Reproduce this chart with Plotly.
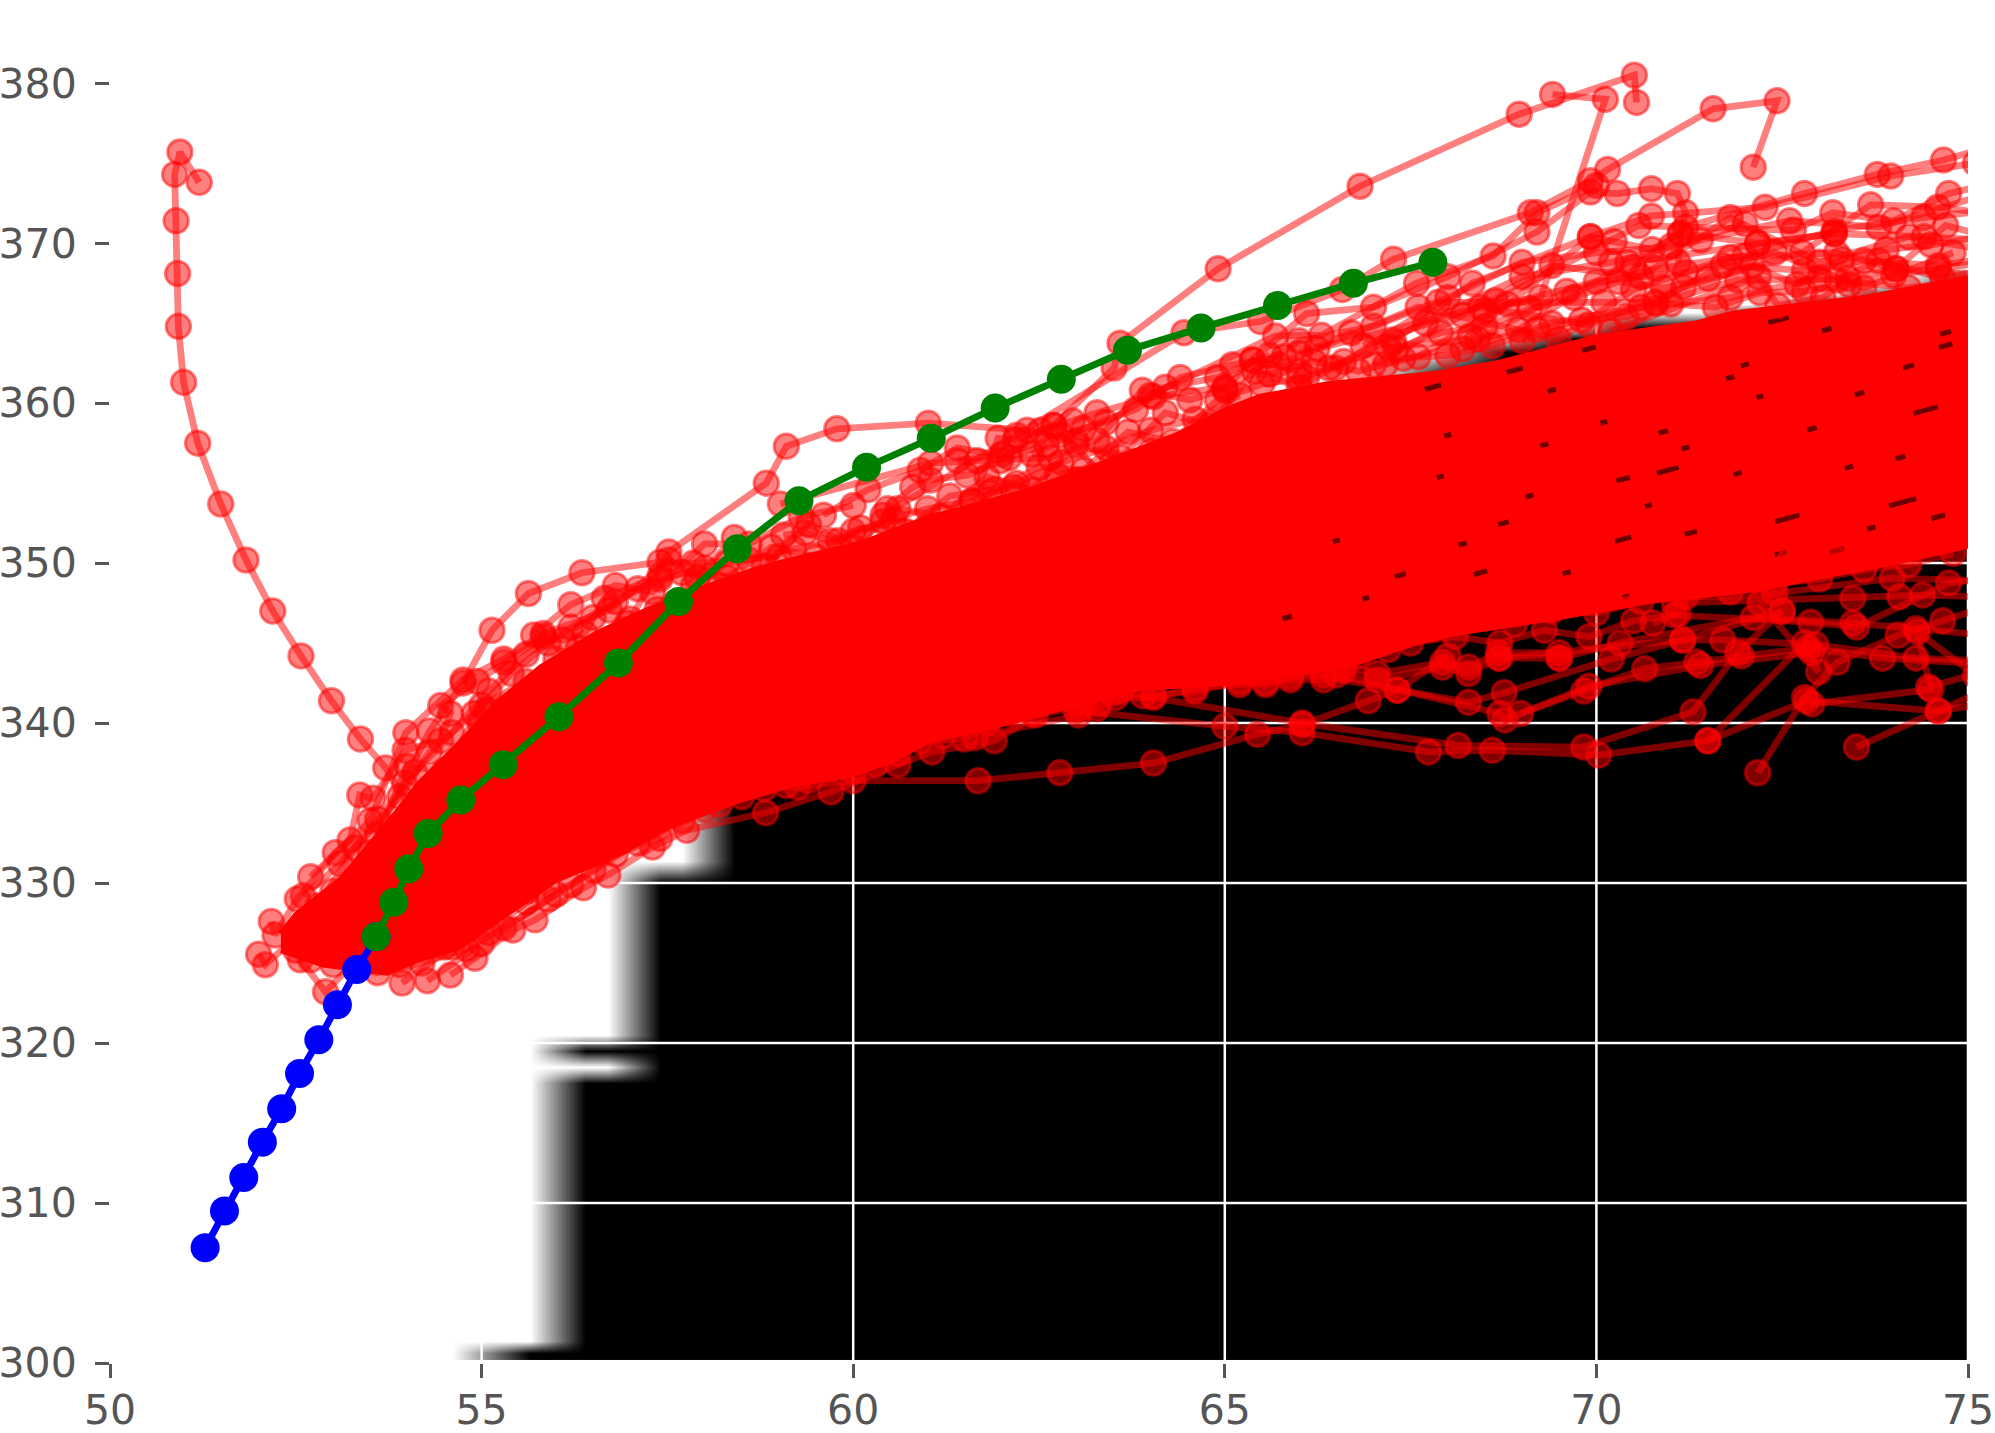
import plotly.graph_objects as go

x_ticks = [50, 55, 60, 65, 70, 75]
y_ticks = [300, 310, 320, 330, 340, 350, 360, 370, 380]

# grey background image: one row per y, the column where black starts
bg_cols = [53.5, 54.6, 55.65, 56.4, 56.7, 57.4, 57.7, 58.4, 59.12, 60.0, 60.88, 61.76, 62.64, 63.52, 64.4, 65.28, 66.16,
           67.04, 67.92, 68.8, 69.68, 70.56, 71.44, 72.32, 73.2, 74.08, 74.96, 75.84]
bg_rows = [300.6, 301.4, 317.5, 318.5, 319.5, 320.5, 330.0, 331.4, 347, 348.5, 350, 351, 352, 353, 354.5, 355.5, 357,
           358.5, 360, 361.7, 363.2, 364, 364.7, 365.7, 366.2, 366.8, 367.4, 368.6]
bg_edge = [55.65, 56.4, 56.4, 57.4, 56.4, 57.4, 57.4, 58.4, 58.4, 59.12, 60.0, 60.88, 61.76, 62.64, 63.52, 64.4,
           65.28, 66.16, 67.04, 67.92, 68.8, 69.68, 70.56, 72.32, 73.2, 74.08, 74.96, 99]

blue_x = [51.28, 51.54, 51.80, 52.05, 52.31, 52.55, 52.81, 53.06, 53.32, 53.58]
blue_y = [307.2, 309.5, 311.6, 313.8, 315.9, 318.1, 320.2, 322.4, 324.6, 326.65]
green_x = [53.58, 53.82, 54.02, 54.28, 54.72, 55.29, 56.04, 56.84, 57.65, 58.44, 59.27, 60.18, 61.05, 61.91, 62.80,
           63.69, 64.68, 65.71, 66.73, 67.80]
green_y = [326.65, 328.8, 330.9, 333.1, 335.2, 337.4, 340.4, 343.75, 347.6, 350.9, 353.9, 356.0, 357.8, 359.7, 361.5,
           363.3, 364.7, 366.1, 367.5, 368.8]

# the part of the red bundle so dense it reads as solid
core_upper = [(52.3, 326.8), (52.5, 328.0), (53.1, 330.2), (53.7, 333.5), (54.17, 336.25), (54.71, 338.75), (55.2, 341.2),
              (55.8, 343.5), (56.55, 345.6), (57.2, 347.0), (57.9, 348.3), (58.57, 349.4), (59.0, 350.0), (60.1, 351.2),
              (60.54, 352.0), (61.08, 352.9), (61.88, 353.9), (62.34, 354.5), (63.23, 356.0), (63.82, 357.0),
              (64.36, 358.0), (65.03, 359.6), (65.48, 360.4), (66.4, 361.2), (67.77, 361.8), (68.67, 362.5),
              (70.0, 364.1), (71.36, 365.0), (71.84, 365.6), (73.65, 366.6), (75.1, 367.9)]
core_lower = [(52.3, 325.8), (52.87, 324.9), (53.73, 324.4), (54.13, 325.2), (54.7, 326.0), (55.34, 328.1), (56.0, 330.2), (56.83, 331.8),
              (57.54, 333.6), (57.98, 334.3), (58.48, 335.2), (59.2, 336.2), (60.0, 336.8), (60.54, 337.7), (61.0, 338.9),
              (61.88, 339.8), (62.78, 340.9), (63.86, 342.2), (65.03, 342.5), (66.1, 343.2), (66.78, 343.8), (67.54, 345.0),
              (68.07, 345.6), (69.47, 346.6), (70.8, 347.7), (72.17, 348.4), (73.05, 349.2), (73.96, 350.0), (75.1, 351.2)]

# small dark slivers left between the lines
hole_x = [70.96, 70.36, 70.36, 72.57, 72.48, 74.12, 74.6, 71.27, 73.24, 74.43, 74.09, 70.9,
          67.8, 68.9, 72.45, 73.54, 67.36, 68.44, 65.84, 68.75, 69.9, 71.8, 74.7, 69.3,
          72.9, 74.2, 66.5, 67.9, 69.1, 70.1, 71.2, 72.2, 73.4, 74.7, 66.9, 68.2, 69.6, 70.7, 71.9, 73.1, 74.3, 68.0, 69.4, 70.4, 72.0, 73.7]
hole_y = [355.8, 355.25, 351.5, 352.8, 350.6, 353.8, 352.9, 351.9, 350.8, 359.56, 356.6, 358.2,
          361, 362.06, 365.2, 360.6, 349.25, 349.4, 346.6, 352.5, 363.4, 361.6, 363.6, 357.4,
          358.4, 362.3, 351.4, 355.4, 354.2, 358.8, 357.2, 360.4, 356.0, 364.4, 347.8, 351.2, 349.4, 353.6, 355.6, 364.6, 349.6, 358.0, 360.8, 347.9, 362.4, 352.2]
hole_size = [16, 10, 12, 18, 9, 20, 10, 9, 10, 18, 7, 7, 12, 12, 15, 7, 8, 10, 7, 8, 10, 6, 10, 6,
             7, 8, 5, 5, 6, 5, 6, 5, 6, 8, 5, 6, 6, 5, 6, 7, 7, 5, 6, 5, 6, 6]

red_tracks = [
    [(51.2, 373.8), (50.94, 375.7), (50.87, 374.3), (50.89, 371.4), (50.91, 368.1), (50.92, 364.8), (50.99, 361.3),
     (51.18, 357.5), (51.49, 353.7), (51.83, 350.2), (52.19, 347.0), (52.57, 344.2), (52.98, 341.4), (53.37, 339.0),
     (53.71, 337.2), (54.09, 334.3)],
    [(53.6, 333), (53.96, 336.25), (54.3, 339.5), (54.75, 342.5), (55.14, 345.8), (55.63, 348.1), (56.35, 349.4), (57.4, 350.06),
     (57.85, 350.0), (59.0, 350.4)],
    [(57.0, 346.5), (57.52, 350.7), (58.83, 355.0), (59.1, 357.3), (59.78, 358.4), (61.01, 358.75), (62.34, 358.3), (63.0, 357.6)],
    [(62.7, 358.6), (63.51, 362.2), (63.59, 363.75), (64.91, 368.4), (66.82, 373.56), (68.96, 378.06), (70.51, 380.5), (70.54, 378.8)],
    [(68.5, 365.8), (69.25, 366.6), (70.12, 379.0), (69.41, 379.3)],
    [(60.4, 353), (62.2, 358), (64.45, 364.4), (65.48, 365.1), (66.58, 367.1), (67.27, 369.0), (69.11, 371.9), (69.92, 373.9),
     (70.15, 374.6), (71.57, 378.4), (72.43, 378.9), (72.11, 374.75)],
    [(65.37, 362.7), (66.1, 365.6), (67.0, 366.0), (68.0, 367.9), (69.2, 370.7), (69.92, 373.2), (70.28, 373.1), (70.74, 373.4),
     (71.09, 373.1), (71.2, 371.9), (71.13, 370.6), (71.1, 368.8)],
    [(64.0, 360.5), (65.68, 364.2), (66.3, 364.25), (67.58, 367.5), (68.61, 369.2), (69.2, 371.9), (70.0, 373.6)],
    [(67.27, 363.9), (68.33, 367.5), (69.92, 370.4), (70.24, 370.1), (70.75, 369.6), (71.13, 370.6), (72.17, 370), (73.2, 370.6)],
    [(70.5, 368.5), (71.2, 371), (72.8, 373.1), (73.78, 374.3), (74.67, 375.2), (75.2, 375.9)],
    [(68.3, 364.2), (69.92, 370.4), (70.74, 371.7), (72.27, 372.25), (73.96, 374.2), (75.1, 375.0)],
    [(66.86, 363.6), (68.64, 366.4), (70.57, 371.1), (72.65, 370.8), (73.18, 371.9), (74.0, 371.4), (74.74, 373.1), (75.2, 373.6)],
    [(67.16, 362.4), (68.95, 364.6), (70.42, 368.8), (72.17, 370.0), (73.2, 370.6), (74.41, 370.4), (75.2, 370.2)],
    [(66.24, 363.4), (68.44, 366.0), (69.9, 364.9), (71.17, 367.25), (72.77, 369.4), (73.69, 372.4), (74.59, 372.25), (75.2, 371.9)],
    [(65.72, 362.4), (67.6, 366.0), (69.49, 364.0), (70.5, 367.1), (71.8, 369.1), (73.23, 369.4), (74.03, 368.4), (74.7, 371.1), (75.2, 370.5)],
    [(66.49, 362.2), (67.87, 366.3), (70.1, 366.3), (70.79, 366.3), (71.7, 368.6), (72.8, 368.3), (73.6, 368.9), (74.6, 368.6), (75.2, 369)],
    [(69.0, 363.9), (70.8, 366.25), (71.9, 367.7), (73.24, 367.7), (73.8, 368.9), (74.66, 367.8), (75.2, 368.3)],
    [(70.2, 364.5), (72.18, 367.9), (72.44, 366.1), (73.05, 366.6), (73.38, 367.8), (74.03, 368.4), (75.2, 368.0)],
    [(59.02, 353.7), (61.04, 356.25), (61.67, 356.4), (62.65, 356.6), (63.28, 357.7), (63.89, 360.8), (64.53, 360.2), (65.0, 360.9), (65.37, 362.7), (66.0, 362)],
    [(60.46, 353.4), (60.8, 354.75), (61.04, 355.2), (61.53, 355.5), (61.98, 356.4), (62.52, 358.3), (62.95, 358.9), (63.28, 359.4), (64.04, 360.4), (65.0, 361.0)],
    [(59.06, 351.75), (59.35, 351.9), (59.69, 351.4), (60.0, 352), (60.54, 352.7), (61.0, 352.25), (61.53, 352.25), (61.84, 354.4), (62.15, 354.75), (62.75, 355.5), (63.49, 356.3), (64.0, 357)],
    [(61.6, 353.9), (61.95, 357.8), (62.18, 357.7), (62.7, 358.6), (63.42, 355.2), (63.03, 355.2), (63.6, 356)],
    [(52.0, 325.55), (52.09, 324.9), (52.6, 327.0), (53.2, 328.5)],
    [(52.17, 327.6), (52.22, 326.75), (52.52, 329.0), (53.03, 331.9), (53.23, 332.7), (53.36, 335.5), (53.54, 335.3), (53.97, 338.3),
     (54.45, 338.9), (54.58, 340.6), (54.45, 341.1), (54.94, 342.6), (55.3, 343.8), (55.83, 345.4), (56.1, 345.2), (56.39, 345.6), (56.65, 347.8), (57.4, 349.2)],
    [(52.7, 330.4), (53.5, 333.9), (53.98, 339.4), (54.75, 342.7), (55.3, 344.0), (55.83, 345.6), (56.72, 347.06), (57.52, 350.2), (57.9, 349.1), (58.4, 351.6)],
    [(54.98, 340.0), (55.07, 340.8), (56.0, 344.0), (56.96, 346.25), (57.36, 347.1), (57.85, 348.6), (58.3, 350)],
    [(52.56, 325.2), (52.9, 323.2), (53.4, 325.6)],
    [(53.93, 323.75), (54.6, 326), (55.6, 329.5)],
    [(54.27, 323.9), (55.0, 326.2), (56.0, 329.3)],
    [(54.58, 324.25), (54.91, 325.3), (55.42, 327.06), (55.72, 327.7), (56.37, 329.7), (56.7, 330.5), (57.3, 332.25), (57.76, 333.3),
     (58.82, 334.4), (59.7, 335.7), (60.6, 337.4), (61.06, 338.2), (61.9, 338.9), (62.45, 340.5), (63.3, 341.2)],
    [(58.4, 336), (59.25, 336.0), (60.0, 336.4), (61.68, 336.4), (62.78, 336.9), (64.04, 337.5), (65.44, 339.3), (66.04, 339.9), (66.93, 341.4), (67.32, 342.06), (68.0, 344.2)],
    [(61.64, 339.1), (63.03, 340.5), (63.28, 340.9), (63.53, 341.6), (64.04, 341.6), (64.6, 342.2), (65.2, 342.4), (65.55, 342.56), (65.88, 342.7),
     (66.33, 342.7), (66.6, 343.3), (67.05, 342.7), (67.93, 343.5), (68.28, 343.1), (68.68, 344.06), (69.5, 344.06)],
    [(63.05, 340.9), (63.5, 341.9), (64.04, 341.7), (64.6, 342.0), (65.2, 342.6), (65.55, 342.4), (65.88, 342.9), (66.33, 343.0), (66.6, 343.6),
     (67.05, 343.1), (67.93, 343.8), (68.28, 343.5), (68.68, 344.4), (69.5, 344.4)],
    [(63.0, 340.8), (65.0, 339.8), (66.04, 339.4), (67.74, 338.2), (68.6, 338.3), (70.03, 338.0), (71.5, 338.9), (72.83, 341.4), (74.6, 340.75), (75.2, 341.2)],
    [(63.9, 341.7), (66.04, 340.0), (68.14, 338.6), (69.83, 338.5), (71.3, 340.7), (71.9, 344.4), (72.5, 347)],
    [(65.0, 344), (67.32, 342.06), (68.28, 341.3), (68.76, 341.9), (70.2, 344), (71.16, 345.2), (72.5, 347)],
    [(68.98, 340.6), (69.83, 342), (70.65, 343.4), (71.35, 343.8), (71.95, 344.2), (72.85, 344.7), (73.85, 344.06), (75.2, 343.7)],
    [(66.5, 343), (68.7, 340.6), (68.77, 340.2), (69.9, 342.3), (71.4, 343.6), (72.9, 344.4)],
    [(71.5, 338.9), (72.8, 345.0), (72.99, 343.2), (72.2, 347.5)],
    [(72.17, 336.9), (72.8, 341.6), (73.24, 343.8), (74.06, 345.5), (74.66, 346.4), (75.2, 347.2)],
    [(73.5, 338.5), (74.6, 340.75), (75.2, 342)],
    [(74.47, 342.25), (75.2, 343.2)],
    [(72.9, 341.2), (74.5, 342.1), (74.32, 345.7), (75.1, 343)],
    [(69.5, 344.06), (70.32, 345.0), (72.11, 346.6), (73.45, 346.25), (74.3, 345.9), (75.2, 345.5)],
    [(68.7, 344.06), (71.16, 345.2), (71.7, 345.2), (72.95, 344.9), (74.3, 344.06), (75.2, 343.9)],
    [(70.76, 346.25), (71.05, 346.75), (72.88, 346.3), (73.5, 346.0), (74.74, 348.75), (75.2, 349)],
    [(71.05, 347.5), (73.45, 347.8), (74.08, 347.9), (74.39, 348.0), (75.2, 347.9)],
    [(69.8, 347.6), (72.4, 348.1), (73.98, 349.06), (75.2, 348.9)],
    # dense markers hugging the solid part, upper side
    [(52.6, 329.2), (53.1, 331.2), (53.6, 334.0), (54.1, 336.9), (54.6, 339.4), (55.1, 342.0), (55.6, 344.3), (56.2, 346.0), (56.8, 347.6),
     (57.4, 349.0), (58.0, 349.7), (58.6, 350.2), (59.2, 350.9), (59.8, 351.4), (60.4, 352.6), (61.0, 353.4), (61.6, 353.9), (62.2, 355.0),
     (62.8, 356.3), (63.4, 357.2), (64.0, 358.3), (64.6, 359.0), (65.2, 360.5)],
    [(52.8, 328.6), (53.3, 332.2), (53.9, 335.4), (54.3, 338.2), (54.9, 340.6), (55.4, 343.1), (55.9, 345.0), (56.5, 346.6), (57.1, 348.4),
     (57.7, 349.4), (58.3, 349.1), (58.9, 351.0), (59.5, 350.4), (60.1, 352.2), (60.7, 352.0), (61.3, 354.2), (61.9, 354.6), (62.5, 356.0),
     (63.1, 355.8), (63.7, 358.2), (64.3, 357.6), (64.9, 360.2), (65.5, 361.2), (66.1, 361.6)],
    [(53.0, 329.5), (53.5, 331.9), (54.0, 337.3), (54.5, 337.0), (55.0, 341.1), (55.6, 342.6), (56.3, 344.7), (56.9, 345.8), (57.6, 347.5),
     (58.2, 348.6), (58.8, 349.8), (59.4, 352.4), (60.0, 351.0), (60.6, 353.4), (61.2, 352.9), (61.8, 355.4), (62.4, 354.6), (63.0, 357.4),
     (63.6, 356.6), (64.2, 359.4), (64.8, 358.6), (65.4, 362.0), (66.0, 361.0), (66.6, 362.6)],
    [(65.6, 361.8), (66.2, 362.6), (66.8, 362.0), (67.4, 362.8), (68.0, 363.0), (68.6, 363.6), (69.2, 364.6), (69.8, 365.2), (70.4, 365.4),
     (71.0, 366.2), (71.6, 366.0), (72.2, 366.9), (72.8, 367.0), (73.4, 367.4), (74.0, 368.0), (74.6, 368.4), (75.2, 368.8)],
    [(66.0, 363.1), (66.7, 364.4), (67.3, 363.4), (67.9, 364.4), (68.5, 364.8), (69.1, 365.9), (69.7, 366.6), (70.3, 367.6), (70.9, 367.2),
     (71.5, 367.8), (72.1, 368.6), (72.7, 367.4), (73.3, 369.0), (73.9, 369.6), (74.5, 369.9), (75.2, 370.4)],
    [(66, 361.5), (67.2, 363.5), (68.4, 364.0), (69.6, 367.0), (70.8, 368.4), (72.0, 369.2), (73.2, 370.8), (74.4, 371.6), (75.2, 372.0)],
    [(66.4, 362.2), (67.7, 365.0), (69.0, 367.9), (70.2, 368.8), (71.4, 370.2), (72.6, 371.4), (73.8, 371.0), (75.2, 373.0)],
    [(67, 362.4), (68.2, 365.5), (69.4, 368.6), (70.6, 367.9), (71.8, 371.6), (73.0, 368.8), (74.2, 370.4), (75.2, 369.6)],
    [(67.6, 362.9), (68.8, 366.2), (70.0, 367.6), (71.2, 368.2), (72.4, 369.4), (73.6, 367.2), (74.8, 369.4)],
    [(68.2, 363.4), (69.4, 365.0), (70.6, 366.0), (71.8, 366.6), (73.0, 367.8), (74.2, 367.2), (75.2, 367.8)],
    [(65.0, 360.8), (66.0, 363.9), (67.0, 364.8), (68.0, 366.6), (69.0, 368.8), (70.0, 369.4), (71.0, 369.8), (72.0, 371.2)],
    [(61.4, 356.4), (62.0, 356.8), (62.8, 358.0), (63.4, 358.8), (64.2, 361.0), (64.9, 361.6), (65.6, 363.0)],
    [(62.4, 356.8), (63.1, 358.4), (63.8, 359.6), (64.4, 361.6), (65.1, 362.4), (65.8, 362.9)],
    [(59.6, 353.0), (60.2, 354.6), (60.9, 355.8), (61.4, 357.2), (62.1, 356.6), (62.6, 357.4)],
    [(55.7, 345.5), (56.2, 347.4), (56.8, 348.6), (57.3, 348.2), (58.0, 351.2), (58.6, 351.2), (59.3, 352.9), (60.0, 353.6)],
    # dense markers hugging the solid part, lower side
    [(52.5, 325.8), (53.0, 324.9), (53.6, 324.4), (54.2, 325.0), (54.8, 325.9), (55.3, 327.2), (55.9, 329.0), (56.5, 330.8), (57.1, 332.5),
     (57.7, 333.9), (58.2, 334.9), (58.8, 335.9), (59.4, 336.4), (60.0, 337.0), (60.6, 338.1), (61.2, 339.2), (61.8, 340.0), (62.4, 340.6),
     (63.0, 341.3), (63.6, 342.0)],
    [(52.7, 325.2), (53.3, 325.3), (53.9, 324.9), (54.5, 326.0), (55.1, 326.9), (55.6, 328.8), (56.2, 329.9), (56.8, 331.8), (57.4, 332.8),
     (58.0, 334.6), (58.5, 335.4), (59.1, 336.1), (59.7, 337.2), (60.3, 337.4), (60.9, 338.9), (61.5, 339.0), (62.1, 340.6)],
    [(66.8, 344.2), (67.4, 346.2), (67.9, 347.2), (68.5, 347.0), (69.0, 347.9), (69.6, 347.6), (70.2, 348.6), (70.8, 348.6), (71.4, 349.4),
     (72.0, 349.2), (72.6, 350.2), (73.2, 350.3), (73.8, 351.0), (74.4, 351.2), (75.0, 352.2)],
    [(67.2, 344.6), (67.8, 345.9), (68.3, 346.6), (68.9, 346.2), (69.4, 347.0), (70.0, 346.9), (70.6, 347.6), (71.2, 347.9), (71.8, 348.2),
     (72.4, 348.7), (73.0, 349.0), (73.6, 349.6), (74.2, 349.9), (74.8, 350.6)],
    [(66.0, 344.4), (66.7, 345.2), (67.5, 345.0), (68.1, 345.4), (68.7, 345.0), (69.3, 345.8), (69.9, 345.4), (70.5, 346.4), (71.1, 346.8)],
]

fig = go.Figure()

fig.add_trace(go.Heatmap(x=bg_cols, y=bg_rows, z=[[1 if c >= e else 0 for c in bg_cols] for e in bg_edge],
                         colorscale=[[0, "#ffffff"], [1, "#000000"]], zmin=0, zmax=1, zsmooth="best",
                         showscale=False, hoverinfo="skip"))

grid_x, grid_y = [], []
for t in y_ticks:
    grid_x += [x_ticks[0], x_ticks[-1], None]
    grid_y += [t, t, None]
for t in x_ticks:
    grid_x += [t, t, None]
    grid_y += [y_ticks[0], 385, None]
fig.add_trace(go.Scatter(x=grid_x, y=grid_y, mode="lines", line=dict(color="#ffffff", width=2.5), hoverinfo="skip"))

core = core_upper + core_lower[::-1]
fig.add_trace(go.Scatter(x=[p[0] for p in core], y=[p[1] for p in core], mode="lines", fill="toself",
                         fillcolor="#ff0000", line=dict(color="#ff0000", width=6), hoverinfo="skip"))

fig.add_trace(go.Scatter(x=hole_x, y=hole_y, mode="markers", hoverinfo="skip",
                         marker=dict(symbol="line-ew", size=hole_size, angle=-15,
                                     line=dict(color="#300000", width=5))))

for tr in red_tracks:
    fig.add_trace(go.Scatter(x=[p[0] for p in tr], y=[p[1] for p in tr], mode="lines+markers",
                             line=dict(color="rgba(255,0,0,0.5)", width=6.8),
                             marker=dict(size=24.5, color="rgba(255,0,0,0.5)",
                                         line=dict(color="rgba(255,0,0,0.5)", width=3))))

fig.add_trace(go.Scatter(x=blue_x, y=blue_y, mode="lines+markers", line=dict(color="#0000ff", width=7),
                         marker=dict(size=29, color="#0000ff")))
fig.add_trace(go.Scatter(x=green_x, y=green_y, mode="lines+markers", line=dict(color="#008000", width=7),
                         marker=dict(size=29, color="#008000")))

axis_common = dict(showgrid=False, zeroline=False, showline=False, automargin=False, ticks="outside", ticklen=14, tickwidth=3,
                   tickcolor="#555555", tickfont=dict(family="DejaVu Sans", size=41, color="#555555"))
fig.update_xaxes(range=[50, 75], tickvals=x_ticks, ticklabelstandoff=-3, **axis_common)
fig.update_yaxes(range=[300, 384.7], tickvals=y_ticks, ticklabelstandoff=10, **axis_common)
fig.update_layout(width=1995, height=1433, margin=dict(l=110, r=27, t=8, b=70), showlegend=False,
                  paper_bgcolor="#ffffff", plot_bgcolor="#ffffff")

fig.write_html("out.html", config={"displayModeBar": False},
               post_script="document.body.style.margin='0';document.documentElement.style.overflow='hidden';")
